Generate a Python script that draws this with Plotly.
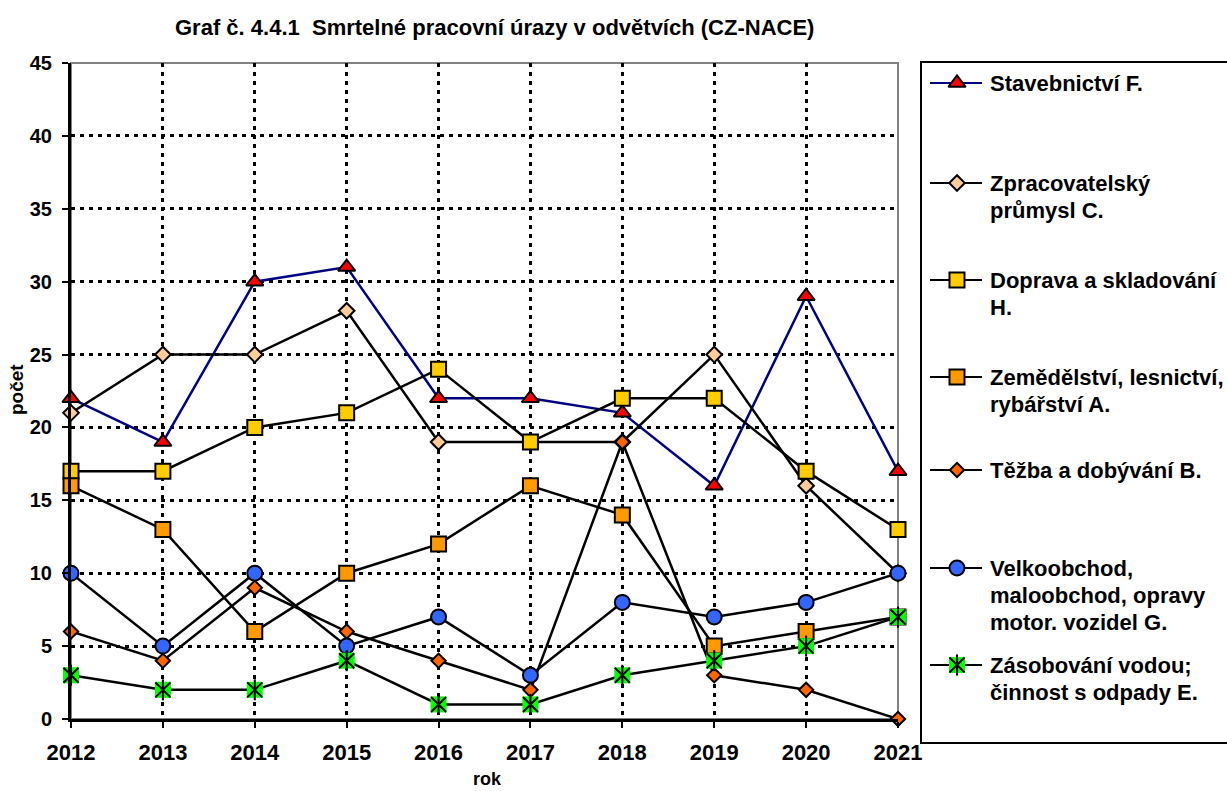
import plotly.graph_objects as go

# --- data -------------------------------------------------------------
years = [2012, 2013, 2014, 2015, 2016, 2017, 2018, 2019, 2020, 2021]

stavebnictvi = [22, 19, 30, 31, 22, 22, 21, 16, 29, 17]
zpracovatelsky = [21, 25, 25, 28, 19, 19, 19, 25, 16, 10]
doprava = [17, 17, 20, 21, 24, 19, 22, 22, 17, 13]
zemedelstvi = [16, 13, 6, 10, 12, 16, 14, 5, 6, 7]
tezba = [6, 4, 9, 6, 4, 2, 19, 3, 2, 0]
velkoobchod = [10, 5, 10, 5, 7, 3, 8, 7, 8, 10]
zasobovani = [3, 2, 2, 4, 1, 1, 3, 4, 5, 7]

series_names = [
    "Stavebnictví F.",
    "Zpracovatelský<br>průmysl C.",
    "Doprava a skladování<br>H.",
    "Zemědělství, lesnictví,<br>rybářství A.",
    "Těžba a dobývání B.",
    "Velkoobchod,<br>maloobchod, opravy<br>motor. vozidel G.",
    "Zásobování vodou;<br>činnost s odpady E.",
]

y_ticks = [0, 5, 10, 15, 20, 25, 30, 35, 40, 45]

W, H = 1227, 791
FONT = "Arial, Liberation Sans, sans-serif"

# plot area in pixels
PL, PR, PT, PB = 71, 898, 63, 719

# --- series styles ----------------------------------------------------
styles = [
    dict(line="#000080", symbol="triangle-up", size=15, fill="#FF0000"),
    dict(line="black", symbol="diamond", size=12, fill="#FFCC99"),
    dict(line="black", symbol="square", size=15, fill="#FFCC00"),
    dict(line="black", symbol="square", size=15, fill="#FF9900"),
    dict(line="black", symbol="diamond", size=11, fill="#FF6600"),
    dict(line="black", symbol="circle", size=15, fill="#3366FF"),
    dict(line="black", symbol="square", size=16, fill="#00FF00"),
]

data = [stavebnictvi, zpracovatelsky, doprava, zemedelstvi, tezba, velkoobchod, zasobovani]

fig = go.Figure()

for vals, st in zip(data, styles):
    is_star = st["fill"] == "#00FF00"
    fig.add_trace(go.Scatter(
        x=years, y=vals, mode="lines+markers",
        line=dict(color=st["line"], width=2.5),
        marker=dict(symbol=st["symbol"], size=st["size"], color=st["fill"],
                    line=dict(color="black", width=0 if is_star else 2)),
        cliponaxis=False, showlegend=False, hoverinfo="x+y",
    ))
    if is_star:
        # asterisk overlay on the green squares: an X plus a vertical bar
        for sym in ("x-thin-open", "line-ns-open"):
            fig.add_trace(go.Scatter(
                x=years, y=vals, mode="markers",
                marker=dict(symbol=sym, size=15, color="black",
                            line=dict(color="black", width=2)),
                cliponaxis=False, showlegend=False, hoverinfo="skip",
            ))

# --- custom legend drawn on a pixel-space overlay axis ----------------
legend_rows = [83, 183, 280, 377, 470, 568, 665]
LINE_GAP = 27
for name, st, yy in zip(series_names, styles, legend_rows):
    fig.add_trace(go.Scatter(
        x=[930, 982], y=[yy, yy], mode="lines", xaxis="x2", yaxis="y2",
        line=dict(color=st["line"], width=2), showlegend=False, hoverinfo="skip",
    ))
    is_star = st["fill"] == "#00FF00"
    fig.add_trace(go.Scatter(
        x=[957], y=[yy], mode="markers", xaxis="x2", yaxis="y2",
        marker=dict(symbol=st["symbol"], size=st["size"], color=st["fill"],
                    line=dict(color="black", width=0 if is_star else 2)),
        showlegend=False, hoverinfo="skip",
    ))
    if is_star:
        for sym in ("x-thin-open", "line-ns-open"):
            fig.add_trace(go.Scatter(
                x=[957], y=[yy], mode="markers", xaxis="x2", yaxis="y2",
                marker=dict(symbol=sym, size=15, color="black",
                            line=dict(color="black", width=2)),
                showlegend=False, hoverinfo="skip",
            ))
    for i, part in enumerate(name.split("<br>")):
        fig.add_annotation(
            x=988, y=yy + i * LINE_GAP, xref="x2", yref="y2", text=part,
            showarrow=False, xanchor="left", yanchor="middle",
            font=dict(family=FONT, size=22, color="black", weight="bold"),
        )

# legend frame
fig.add_shape(type="rect", xref="x2", yref="y2", x0=921, x1=1228, y0=62, y1=743,
              line=dict(color="black", width=2), fillcolor="rgba(0,0,0,0)")

# plot area border (grey, under the gridlines)
fig.add_shape(type="rect", xref="x domain", yref="y domain", x0=0, x1=1, y0=0, y1=1,
              line=dict(color="#808080", width=2), layer="below")

# --- titles -------------------------------------------------------------
fig.add_annotation(
    x=494, y=27, xref="x2", yref="y2", showarrow=False,
    text="<b>Graf č. 4.4.1  Smrtelné pracovní úrazy v odvětvích (CZ-NACE)</b>",
    font=dict(family=FONT, size=22, color="black"),
)
fig.add_annotation(
    x=16, y=390, xref="x2", yref="y2", showarrow=False, textangle=-90,
    text="<b>počet</b>", font=dict(family=FONT, size=19, color="black"),
)
fig.add_annotation(
    x=487, y=779, xref="x2", yref="y2", showarrow=False,
    text="<b>rok</b>", font=dict(family=FONT, size=18, color="black"),
)

grid_dash = "4px,5px"
fig.update_layout(
    template="none",
    width=W, height=H,
    margin=dict(l=0, r=0, t=0, b=0, pad=0),
    paper_bgcolor="white", plot_bgcolor="rgba(0,0,0,0)",
    showlegend=False,
    xaxis=dict(
        domain=[PL / W, PR / W], range=[2012, 2021], automargin=False,
        tickmode="array", tickvals=years, ticktext=[str(y) for y in years],
        showgrid=True, gridcolor="black", gridwidth=3, griddash=grid_dash,
        showline=True, linecolor="black", linewidth=3,
        ticks="outside", ticklen=6, tickwidth=2, tickcolor="black",
        ticklabelstandoff=6,
        tickfont=dict(family=FONT, size=22, color="black", weight="bold"),
        zeroline=False, fixedrange=True,
    ),
    yaxis=dict(
        domain=[(H - PB) / H, (H - PT) / H], range=[0, 45], automargin=False,
        tickmode="array", tickvals=y_ticks,
        showgrid=True, gridcolor="black", gridwidth=3, griddash=grid_dash,
        showline=True, linecolor="black", linewidth=3,
        ticks="outside", ticklen=6, tickwidth=2, tickcolor="black",
        ticklabelstandoff=6,
        tickfont=dict(family=FONT, size=20, color="black", weight="bold"),
        zeroline=False, fixedrange=True,
    ),
    xaxis2=dict(domain=[0, 1], range=[0, W], visible=False, fixedrange=True,
                anchor="y2", automargin=False),
    yaxis2=dict(domain=[0, 1], range=[H, 0], visible=False, fixedrange=True,
                anchor="x2", automargin=False),
)

fig.write_html("out.html")
